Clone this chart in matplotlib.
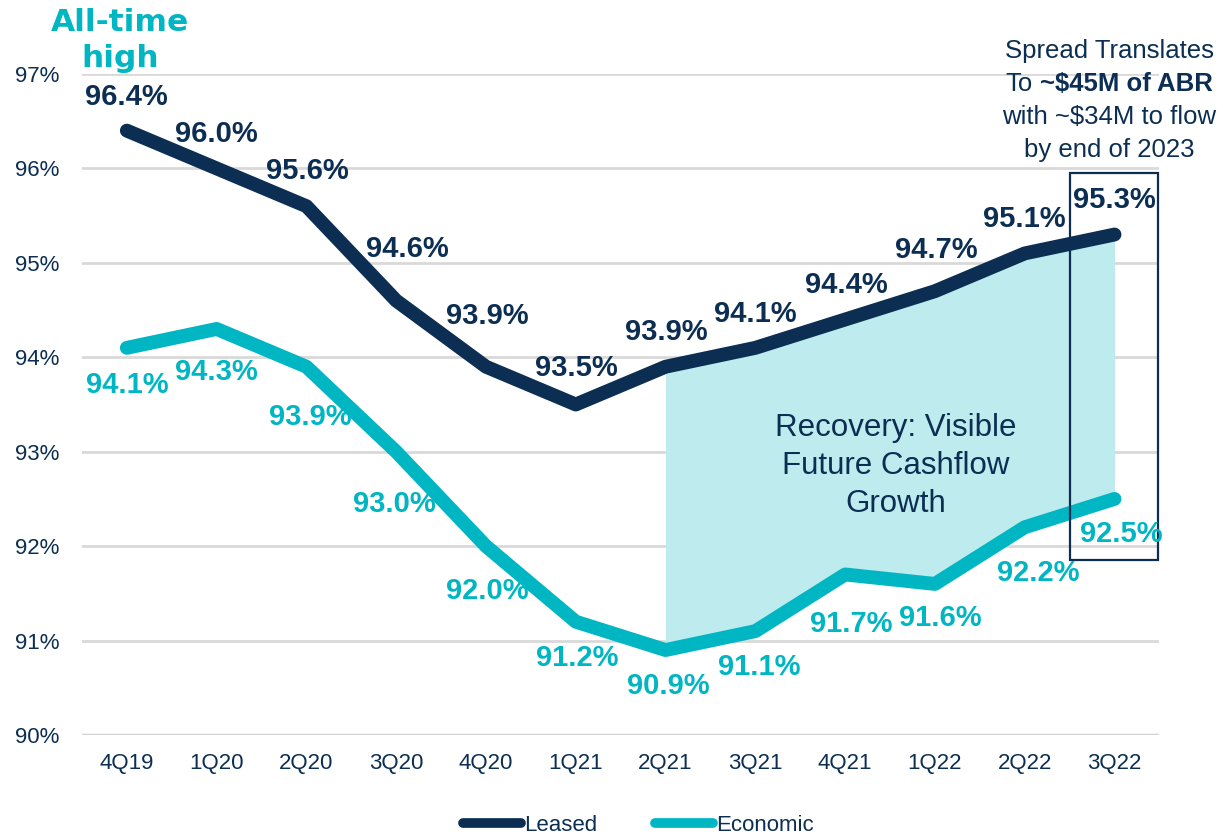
import matplotlib.pyplot as plt
from matplotlib.patches import Rectangle

plt.rcParams['font.family'] = ['Liberation Sans', 'DejaVu Sans']

quarters = ['4Q19', '1Q20', '2Q20', '3Q20', '4Q20', '1Q21', '2Q21', '3Q21', '4Q21', '1Q22', '2Q22', '3Q22']
leased = [96.4, 96.0, 95.6, 94.6, 93.9, 93.5, 93.9, 94.1, 94.4, 94.7, 95.1, 95.3]
economic = [94.1, 94.3, 93.9, 93.0, 92.0, 91.2, 90.9, 91.1, 91.7, 91.6, 92.2, 92.5]

navy = '#0b2e52'
cyan = '#00b6c3'
fill_c = '#bdebee'

# label offsets in points (dx, dy) from each point
leased_off = [(0, 24.5), (0, 24.5), (0.7, 25), (8, 37.5), (0.7, 36.7), (0.7, 26.6),
              (0.7, 25.2), (0, 24.5), (0.7, 24.5), (0.7, 29.5), (0, 24.5), (0, 24.5)]
econ_off = [(0.7, -26.6), (0, -31), (3, -36), (-1.4, -37.4), (0.7, -32.4), (0.7, -26),
            (2, -26), (3, -26), (4.3, -35.3), (3.6, -24.5), (9.4, -33), (5, -25)]

fig = plt.figure(figsize=(12.23, 8.36), dpi=100)
ax = fig.add_axes([0.067, 0.1208, 0.881, 0.7907])

x = list(range(len(quarters)))

ax.fill_between(x[6:], leased[6:], economic[6:], color=fill_c, lw=0, zorder=1)
ax.plot(x, leased, color=navy, lw=10, solid_capstyle='round', solid_joinstyle='round', zorder=3, label='Leased')
ax.plot(x, economic, color=cyan, lw=10, solid_capstyle='round', solid_joinstyle='round', zorder=3, label='Economic')

for i in x:
    ax.annotate(f'{leased[i]:.1f}%', (i, leased[i]), xytext=leased_off[i], textcoords='offset points',
                ha='center', va='center', fontsize=21, fontweight='bold', color=navy, zorder=5)
    ax.annotate(f'{economic[i]:.1f}%', (i, economic[i]), xytext=econ_off[i], textcoords='offset points',
                ha='center', va='center', fontsize=21, fontweight='bold', color=cyan, zorder=5)

ax.add_patch(Rectangle((10.5, 91.85), 0.98, 4.1, fill=False, edgecolor=navy, lw=1.6, zorder=4, clip_on=False))

ax.text(8.56, 92.85, 'Recovery: Visible\nFuture Cashflow\nGrowth', ha='center', va='center',
        fontsize=22.5, color=navy, linespacing=1.35, zorder=5)

ax.set_xlim(-0.5, 11.5)
ax.set_ylim(90, 97)
ax.set_yticks([90, 91, 92, 93, 94, 95, 96, 97])
ax.set_yticklabels([f'{v}%' for v in range(90, 98)])
ax.set_xticks(x)
ax.set_xticklabels(quarters)
ax.tick_params(axis='both', length=0, labelsize=16, labelcolor=navy)
ax.tick_params(axis='x', pad=13)
ax.tick_params(axis='y', pad=16)
ax.grid(axis='y', color='#d9d9d9', lw=2)
ax.axhline(90, color='#c4c4c4', lw=2.5, zorder=0.5)
ax.set_axisbelow(True)
for s in ax.spines.values():
    s.set_visible(False)

fig.text(0.098, 0.99, 'All-time\nhigh', ha='center', va='top', fontsize=22.5, fontweight='bold',
         family='DejaVu Sans', color=cyan, linespacing=1.3)

fig.text(0.907, 0.939, 'Spread Translates', ha='center', va='center', fontsize=18.5, color=navy)
fig.text(0.844, 0.900, 'To', ha='right', va='center', fontsize=18.5, color=navy)
fig.text(0.850, 0.900, '~$45M of ABR', ha='left', va='center', fontsize=18.5, fontweight='bold', color=navy)
fig.text(0.907, 0.860, 'with ~$34M to flow', ha='center', va='center', fontsize=18.5, color=navy)
fig.text(0.907, 0.821, 'by end of 2023', ha='center', va='center', fontsize=18.5, color=navy)

leg = fig.legend(loc='center', bbox_to_anchor=(0.522, 0.013), ncol=2, frameon=False, fontsize=16,
                 handlelength=2.6, handletextpad=0.15, columnspacing=2.6)
for line in leg.get_lines():
    line.set_linewidth(7)
for t in leg.get_texts():
    t.set_color(navy)

fig.savefig('out.png', dpi=100)
